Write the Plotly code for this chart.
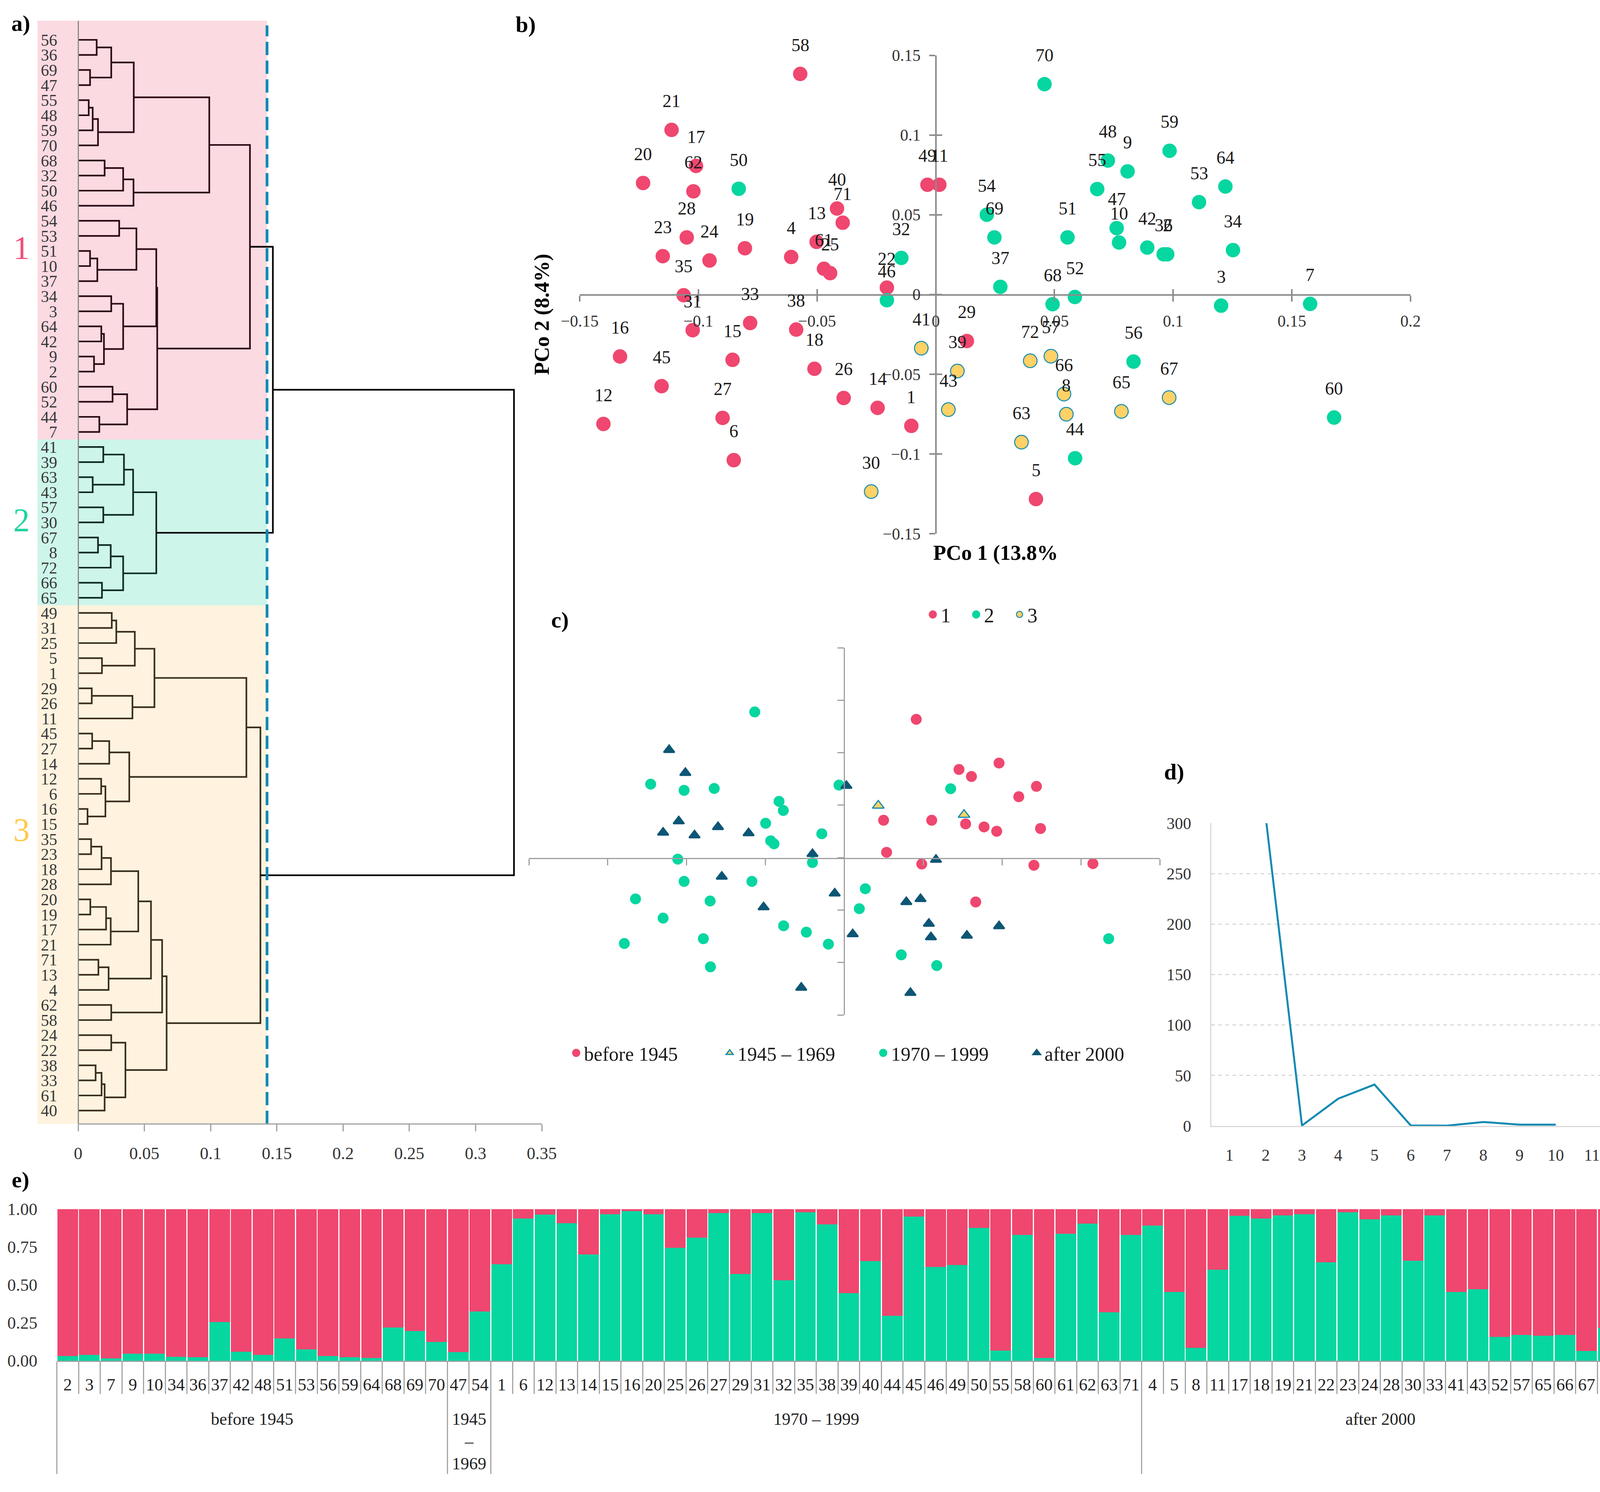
import plotly.graph_objects as go

W, H = 4179, 3819
def fx(p): return p / W
def fy(p): return 1 - p / H

FONT = "Liberation Serif"
RED, GREEN, YELLOW, BLUE, NAVY = "#ef476f", "#06d6a0", "#ffd166", "#118ab2", "#0d5675"
BG_COLORS = ["#fbdae2", "#cdf5ea", "#fff3df"]
LINE_COLORS = ["#2b0a14", "#0f2a23", "#3a2e1e"]
CLUSTER_TXT = ["#f0507a", "#1fd3a0", "#ffc94a"]
AX = "#a0a0a0"
TXT = "#333333"

# ---------------- a) dendrogram: node = (height, left, right); leaves = sample ids
CLUSTER_1 = (0.1297,
    (0.099,
        (0.0420, (0.025, (0.014, 56, 36), (0.009, 69, 47)),
                 (0.015, (0.011, (0.008, 55, 48), 59), 70)),
        (0.0418, (0.034, (0.020, 68, 32), 50), 46)),
    (0.0597,
        (0.059, (0.044, (0.031, 54, 53), (0.0145, (0.009, 51, 10), 37)),
                (0.034, (0.025, 34, 3), (0.0195, (0.0175, 64, 42), (0.012, 9, 2)))),
        (0.037, (0.026, 60, 52), (0.016, 44, 7))))
CLUSTER_2 = (0.059,
    (0.0415, (0.0346, (0.019, 41, 39), (0.011, 63, 43)), (0.019, 57, 30)),
    (0.034, (0.0246, (0.015, 67, 8), 72), (0.018, 66, 65)))
CLUSTER_3 = (0.1376,
    (0.127,
        (0.0576, (0.0428, (0.0288, (0.0254, 49, 31), 25), (0.018, 5, 1)),
                 (0.041, (0.0103, 29, 26), 11)),
        (0.0386, (0.0235, (0.0106, 45, 27), 14),
                 (0.0206, (0.0174, 12, 6), (0.0071, 16, 15)))),
    (0.0668,
        (0.0634,
            (0.055, (0.0454, (0.0248, (0.0177, (0.0098, 35, 23), 18), 28),
                             (0.0246, (0.0211, (0.0092, 20, 19), 17), 21)),
                    (0.023, (0.0153, 71, 13), 4)),
            (0.025, 62, 58)),
        (0.0357, (0.025, 24, 22), (0.020, (0.0177, (0.0132, 38, 33), 61), 40))))
JOIN_12 = 0.147
JOIN_ALL = 0.329
CUT_HEIGHT = 0.1426
A_XTICKS = [0, 0.05, 0.1, 0.15, 0.2, 0.25, 0.3, 0.35]
A_XTICKTEXT = ["0", "0.05", "0.1", "0.15", "0.2", "0.25", "0.3", "0.35"]

# ---------------- b) PCoA (cluster legend 1, 2, 3)
B1_LABELS = [58, 21, 17, 20, 62, 28, 23, 24, 19, 35, 31, 33, 15, 16, 45, 12, 27, 6, 4, 38,
             13, 61, 25, 40, 71, 18, 26, 14, 1, 22, 49, 11, 29, 5]
B1_X = [-0.0571, -0.1113, -0.1010, -0.1233, -0.1021, -0.1049, -0.1150, -0.0953, -0.0804, -0.1062,
        -0.1024, -0.0782, -0.0856, -0.1330, -0.1155, -0.1400, -0.0898, -0.0851, -0.0609, -0.0588,
        -0.0502, -0.0471, -0.0445, -0.0416, -0.0392, -0.0511, -0.0388, -0.0245, -0.0103, -0.0206,
        -0.0035, 0.0015, 0.0131, 0.0422]
B1_Y = [0.1383, 0.1032, 0.0806, 0.0699, 0.0647, 0.0358, 0.0240, 0.0213, 0.0290, -0.0005,
        -0.0224, -0.0179, -0.0410, -0.0389, -0.0575, -0.0812, -0.0774, -0.1039, 0.0235, -0.0220,
        0.0330, 0.0161, 0.0134, 0.0539, 0.0450, -0.0466, -0.0649, -0.0711, -0.0824, 0.0043,
        0.0688, 0.0688, -0.0292, -0.1283]
B2_LABELS = [50, 32, 46, 54, 69, 37, 70, 68, 52, 51, 55, 48, 9, 47, 10, 59, 42, 36, 2, 53,
             64, 34, 3, 7, 56, 60, 44]
B2_X = [-0.0830, -0.0145, -0.0206, 0.0215, 0.0247, 0.0272, 0.0458, 0.0492, 0.0586, 0.0555,
        0.0680, 0.0725, 0.0808, 0.0762, 0.0772, 0.0985, 0.0891, 0.0960, 0.0975, 0.1109,
        0.1220, 0.1252, 0.1202, 0.1577, 0.0833, 0.1678, 0.0587]
B2_Y = [0.0663, 0.0229, -0.0036, 0.0500, 0.0358, 0.0048, 0.1319, -0.0061, -0.0016, 0.0358,
        0.0661, 0.0840, 0.0772, 0.0416, 0.0326, 0.0901, 0.0294, 0.0252, 0.0252, 0.0579,
        0.0677, 0.0278, -0.0070, -0.0059, -0.0421, -0.0772, -0.1027]
B3_LABELS = [41, 39, 43, 30, 72, 57, 66, 8, 65, 67, 63]
B3_X = [-0.0061, 0.0091, 0.0053, -0.0272, 0.0398, 0.0485, 0.0540, 0.0550, 0.0782, 0.0983, 0.0361]
B3_Y = [-0.0337, -0.0480, -0.0722, -0.1236, -0.0416, -0.0387, -0.0625, -0.0751, -0.0733, -0.0647, -0.0926]
B_XTICKS = [-0.15, -0.1, -0.05, 0, 0.05, 0.1, 0.15, 0.2]
B_XTICKTEXT = ["\u22120.15", "\u22120.1", "\u22120.05", "0", "0.05", "0.1", "0.15", "0.2"]
B_YTICKS = [-0.15, -0.1, -0.05, 0, 0.05, 0.1, 0.15]
B_YTICKTEXT = ["\u22120.15", "\u22120.1", "\u22120.05", "0", "0.05", "0.1", "0.15"]

# ---------------- c) ordination by period
C_BEFORE_X = [0.0456, 0.0727, 0.0806, 0.0981, 0.1218, 0.1106, 0.0249, 0.0554, 0.0769, 0.0886,
              0.0966, 0.1244, 0.0268, 0.0491, 0.1202, 0.1576, 0.0833]
C_BEFORE_Y = [0.1318, 0.0840, 0.0773, 0.0901, 0.0679, 0.0580, 0.0356, 0.0356, 0.0321, 0.0292,
              0.0251, 0.0277, 0.0050, -0.0061, -0.0073, -0.0058, -0.0423]
C_1945_X = [0.0215, 0.0759]
C_1945_Y = [0.0496, 0.0408]
C_1970_X = [-0.0568, -0.1228, -0.1016, -0.0825, -0.0034, -0.0414, -0.0387, -0.0499, -0.0143, -0.0467,
            -0.0446, -0.1056, -0.0202, 0.0674, -0.1016, -0.0586, 0.0133, -0.1324, -0.0851, -0.1149,
            0.0095, -0.0385, -0.0241, -0.0894, -0.1395, -0.0101, 0.0361, 0.0586, -0.0849, 0.1676]
C_1970_Y = [0.1388, 0.0700, 0.0641, 0.0659, 0.0691, 0.0536, 0.0449, 0.0327, 0.0227, 0.0160,
            0.0131, -0.0015, -0.0047, 0.0656, -0.0227, -0.0227, -0.0297, -0.0394, -0.0414, -0.0577,
            -0.0487, -0.0650, -0.0711, -0.0773, -0.0819, -0.0825, -0.0927, -0.1029, -0.1041, -0.0773]
C_2000_X = [-0.1111, -0.1008, 0.0013, -0.1050, -0.1149, -0.0950, -0.0801, -0.0607, -0.0202, 0.0581,
            -0.0777, -0.0061, -0.0512, 0.0393, 0.0483, 0.0536, 0.0549, 0.0777, 0.0981, 0.0053,
            -0.0273, 0.0419]
C_2000_Y = [0.1026, 0.0808, 0.0685, 0.0347, 0.0239, 0.0213, 0.0292, 0.0233, 0.0035, -0.0020,
            -0.0181, -0.0341, -0.0472, -0.0423, -0.0394, -0.0630, -0.0758, -0.0743, -0.0653, -0.0729,
            -0.1239, -0.1289]
C_TICKS_X = [-0.2, -0.15, -0.1, -0.05, 0, 0.05, 0.1, 0.15, 0.2]
C_TICKS_Y = [-0.15, -0.1, -0.05, 0, 0.05, 0.1, 0.15, 0.2]

# ---------------- d) delta K
D_K = [1, 2, 3, 4, 5, 6, 7, 8, 9, 10, 11]
D_DELTA = [None, 306, 0.4, 27, 41, 0.5, 0.3, 3.9, 1.3, 1.3, None]
D_YTICKS = [0, 50, 100, 150, 200, 250, 300]

# ---------------- e) membership proportions by period
E_PERIODS = ["before 1945", "1945<br>\u2013<br>1969", "1970 \u2013 1999", "after 2000"]
E_SAMPLES = [
    [2, 3, 7, 9, 10, 34, 36, 37, 42, 48, 51, 53, 56, 59, 64, 68, 69, 70],
    [47, 54],
    [1, 6, 12, 13, 14, 15, 16, 20, 25, 26, 27, 29, 31, 32, 35, 38, 39, 40, 44, 45, 46, 49, 50,
     55, 58, 60, 61, 62, 63, 71],
    [4, 5, 8, 11, 17, 18, 19, 21, 22, 23, 24, 28, 30, 33, 41, 43, 52, 57, 65, 66, 67, 72],
]
E_GREEN = [
    [0.031, 0.039, 0.015, 0.046, 0.046, 0.025, 0.022, 0.255, 0.058, 0.038, 0.148, 0.074, 0.031,
     0.022, 0.017, 0.220, 0.195, 0.123],
    [0.056, 0.325],
    [0.636, 0.937, 0.962, 0.907, 0.700, 0.964, 0.986, 0.965, 0.745, 0.811, 0.972, 0.572, 0.972,
     0.531, 0.978, 0.898, 0.446, 0.656, 0.297, 0.951, 0.617, 0.630, 0.875, 0.067, 0.829, 0.019,
     0.837, 0.903, 0.318, 0.830],
    [0.891, 0.453, 0.086, 0.600, 0.955, 0.937, 0.958, 0.965, 0.649, 0.979, 0.933, 0.958, 0.659,
     0.958, 0.454, 0.472, 0.156, 0.171, 0.164, 0.171, 0.064, 0.216],
]
E_YTICKS = [0, 0.25, 0.5, 0.75, 1.0]

fig = go.Figure()

# ================= a) dendrogram =================
def leaves(node):
    if isinstance(node, int):
        return [node]
    return leaves(node[1]) + leaves(node[2])

clusters = [CLUSTER_1, CLUSTER_2, CLUSTER_3]
order = []
for c in clusters:
    order += leaves(c)
pos = {lf: i for i, lf in enumerate(order)}

def build(node, xs, ys):
    if isinstance(node, int):
        return 0.0, float(pos[node])
    h, l, r = node
    hl, yl = build(l, xs, ys)
    hr, yr = build(r, xs, ys)
    xs.extend([hl, h, h, hr, None])
    ys.extend([yl, yl, yr, yr, None])
    return h, (yl + yr) / 2

tops = []
for cl, col in zip(clusters, LINE_COLORS):
    xs, ys = [], []
    tops.append(build(cl, xs, ys))
    fig.add_trace(go.Scatter(x=xs, y=ys, mode="lines", line=dict(color=col, width=4.2),
                             xaxis="x", yaxis="y", showlegend=False, hoverinfo="skip"))

def join(a, b, h):
    return [a[0], h, h, b[0], None], [a[1], a[1], b[1], b[1], None], (h, (a[1] + b[1]) / 2)

jx1, jy1, n12 = join(tops[0], tops[1], JOIN_12)
jx2, jy2, _ = join(n12, tops[2], JOIN_ALL)
fig.add_trace(go.Scatter(x=jx1 + jx2, y=jy1 + jy2, mode="lines", line=dict(color="#000000", width=4.2),
                         xaxis="x", yaxis="y", showlegend=False, hoverinfo="skip"))

ZERO_PX = 200
LEAF0_PX, LEAF_STEP = 102, 38.6
A_TOP_PX, A_BOT_PX = 53, 2877
y_top = (A_TOP_PX - LEAF0_PX) / LEAF_STEP
y_bot = (A_BOT_PX - LEAF0_PX) / LEAF_STEP
A_SCALE = (1387 - ZERO_PX) / 0.35
x_left = (96 - ZERO_PX) / A_SCALE

bounds = [y_top]
acc = 0
for c in clusters:
    acc += len(leaves(c))
    bounds.append(acc - 0.5)
bounds[-1] = y_bot
for i, col in enumerate(BG_COLORS):
    fig.add_shape(type="rect", xref="x", yref="y", x0=x_left, x1=CUT_HEIGHT, y0=bounds[i], y1=bounds[i + 1],
                  fillcolor=col, line=dict(width=0), layer="below")
fig.add_shape(type="line", xref="x", yref="paper", x0=CUT_HEIGHT, x1=CUT_HEIGHT, y0=fy(A_BOT_PX), y1=fy(65),
              line=dict(color=BLUE, width=7, dash="34px,14px"))
fig.add_shape(type="line", xref="x", yref="paper", x0=0, x1=0.35, y0=fy(A_BOT_PX), y1=fy(A_BOT_PX),
              line=dict(color=AX, width=3))

# ================= b) PCoA =================
for name, col, lab, xs, ys, outline in [("1", RED, B1_LABELS, B1_X, B1_Y, None),
                                         ("2", GREEN, B2_LABELS, B2_X, B2_Y, None),
                                         ("3", YELLOW, B3_LABELS, B3_X, B3_Y, BLUE)]:
    if outline:
        mk = dict(size=35, color=col, line=dict(color=outline, width=2.5))
    else:
        mk = dict(size=32, color=col, line=dict(color=col, width=5))
    fig.add_trace(go.Scatter(x=xs, y=ys, mode="markers", name=name, legend="legend2", marker=mk,
                             xaxis="x2", yaxis="y2", hoverinfo="skip"))
    for l, x, y in zip(lab, xs, ys):
        fig.add_annotation(x=x, y=y, xref="x2", yref="y2", text=str(l), showarrow=False, yshift=74,
                           xanchor="center", yanchor="middle",
                           font=dict(size=46, family=FONT, color="#1a1a1a"))
fig.add_trace(go.Scatter(x=[None], y=[None], xaxis="x6", yaxis="y2", showlegend=False, hoverinfo="skip"))
fig.add_trace(go.Scatter(x=[None], y=[None], xaxis="x2", yaxis="y6", showlegend=False, hoverinfo="skip"))

# ================= c) periods =================
for name, xs, ys, sym, col, lc, lw, sz in [
        ("before 1945", C_BEFORE_X, C_BEFORE_Y, "circle", RED, RED, 5, 23),
        ("1945 \u2013 1969", C_1945_X, C_1945_Y, "triangle-up", YELLOW, BLUE, 3, 26),
        ("1970 \u2013 1999", C_1970_X, C_1970_Y, "circle", GREEN, GREEN, 5, 23),
        ("after 2000", C_2000_X, C_2000_Y, "triangle-up", NAVY, NAVY, 4, 24)]:
    fig.add_trace(go.Scatter(x=xs, y=ys, mode="markers", name=name, legend="legend3",
                             marker=dict(size=sz, symbol=sym, color=col, line=dict(color=lc, width=lw)),
                             xaxis="x3", yaxis="y3", hoverinfo="skip"))

# ================= d) delta K =================
fig.add_trace(go.Scatter(x=D_K, y=D_DELTA, mode="lines", line=dict(color=BLUE, width=5),
                         xaxis="x4", yaxis="y4", showlegend=False, hoverinfo="skip"))

# ================= e) stacked bars =================
groups, cats, green, red = [], [], [], []
for p, s, g in zip(E_PERIODS, E_SAMPLES, E_GREEN):
    for si, gi in zip(s, g):
        groups.append("<br>" + p)   # leading break: group label sits one line lower
        cats.append(str(si))
        green.append(gi)
        red.append(round(1 - gi, 4))
fig.add_trace(go.Bar(x=[groups, cats], y=green, marker=dict(color=GREEN, line=dict(width=0)),
                     xaxis="x5", yaxis="y5", showlegend=False, hoverinfo="skip"))
fig.add_trace(go.Bar(x=[groups, cats], y=red, marker=dict(color=RED, line=dict(width=0)),
                     xaxis="x5", yaxis="y5", showlegend=False, hoverinfo="skip"))

# ================= annotations =================
def paper_text(txt, x, y, size, color="#000", angle=0):
    fig.add_annotation(x=fx(x), y=fy(y), xref="paper", yref="paper", text=txt, showarrow=False,
                       xanchor="center", yanchor="middle", textangle=angle,
                       font=dict(size=size, family=FONT, color=color))

for txt, x, y in [("a)", 53, 60), ("b)", 1346, 62), ("c)", 1433, 1586), ("d)", 3006, 1975), ("e)", 52, 3019)]:
    paper_text("<b>" + txt + "</b>", x, y, 58)
for txt, y, col in [("1", 634, CLUSTER_TXT[0]), ("2", 1331, CLUSTER_TXT[1]), ("3", 2124, CLUSTER_TXT[2])]:
    paper_text(txt, 55, y, 84, col)
paper_text("<b>PCo 2 (8.4%)</b>", 1387, 805, 54, angle=-90)
paper_text("<b>PCo 1 (13.8%</b>", 2548, 1415, 54)

tickfont = dict(size=44, family=FONT, color=TXT)
fig.update_layout(
    width=W, height=H, autosize=False, margin=dict(l=0, r=0, t=0, b=0, autoexpand=False),
    paper_bgcolor="white", plot_bgcolor="rgba(0,0,0,0)",
    font=dict(family=FONT, color=TXT), barmode="stack", bargap=0.05,
    xaxis=dict(domain=[fx(96), fx(1387)], range=[x_left, 0.35], anchor="y", tickvals=A_XTICKS,
               ticktext=A_XTICKTEXT, showline=False, ticks="outside", ticklen=18, tickwidth=3, tickcolor=AX,
               tickfont=tickfont, showgrid=False, zeroline=False, ticklabelstandoff=18),
    yaxis=dict(domain=[fy(A_BOT_PX), fy(A_TOP_PX)], range=[y_bot, y_top], anchor="free", position=fx(ZERO_PX),
               tickvals=list(range(len(order))), ticktext=[str(v) for v in order], ticks="outside",
               ticklen=44, tickcolor="rgba(0,0,0,0)", showline=True, linecolor="#8a8a8a", linewidth=3,
               tickfont=dict(size=42, family=FONT, color="#383838"), showgrid=False, zeroline=False),
    xaxis2=dict(domain=[fx(1484), fx(3611)], range=[-0.15, 0.2], anchor="free", position=fy(755),
                tickvals=B_XTICKS, ticktext=B_XTICKTEXT, showline=True, linecolor="#8c8c8c", linewidth=3.5,
                ticks="outside", ticklen=15, tickwidth=3.5, tickcolor="#8c8c8c",
                tickfont=dict(size=42, family=FONT, color=TXT), showgrid=False, zeroline=False,
                ticklabelstandoff=14),
    yaxis2=dict(domain=[fy(1366), fy(141.5)], range=[-0.15, 0.15], anchor="free", position=fx(2396),
                tickvals=B_YTICKS, ticktext=B_YTICKTEXT, showline=True, linecolor="#8c8c8c", linewidth=3.5,
                ticks="outside", ticklen=15, tickwidth=3.5, tickcolor="#8c8c8c",
                tickfont=dict(size=42, family=FONT, color=TXT), showgrid=False, zeroline=False,
                ticklabelstandoff=14),
    xaxis6=dict(overlaying="x2", range=[-0.15, 0.2], anchor="free", position=fy(755), tickvals=B_XTICKS,
                showticklabels=False, showline=False, ticks="inside", ticklen=15, tickwidth=3.5,
                tickcolor="#8c8c8c", showgrid=False, zeroline=False),
    yaxis6=dict(overlaying="y2", range=[-0.15, 0.15], anchor="free", position=fx(2396), tickvals=B_YTICKS,
                showticklabels=False, showline=False, ticks="inside", ticklen=15, tickwidth=3.5,
                tickcolor="#8c8c8c", showgrid=False, zeroline=False),
    xaxis3=dict(domain=[fx(1354), fx(2969)], range=[-0.2, 0.2], anchor="free", position=fy(2197),
                tickvals=C_TICKS_X, showticklabels=False, showline=True, linecolor=AX, linewidth=3,
                ticks="outside", ticklen=16, tickwidth=3, tickcolor=AX, showgrid=False, zeroline=False),
    yaxis3=dict(domain=[fy(2598), fy(1658)], range=[-0.15, 0.2], anchor="free", position=fx(2161),
                tickvals=C_TICKS_Y, showticklabels=False, showline=True, linecolor=AX, linewidth=3,
                ticks="outside", ticklen=16, tickwidth=3, tickcolor=AX, showgrid=False, zeroline=False),
    xaxis4=dict(domain=[fx(3101), fx(4122)], range=[0.5, 11.5], anchor="y4", tickvals=D_K,
                showline=True, linecolor="#d9d9d9", linewidth=3, ticks="", showgrid=False, zeroline=False,
                tickfont=dict(size=42, family=FONT, color=TXT), ticklabelstandoff=36),
    yaxis4=dict(domain=[fy(2882), fy(2107)], range=[0, 300], anchor="x4", tickvals=D_YTICKS,
                showline=True, linecolor="#d9d9d9", linewidth=3, showgrid=True, gridcolor="#d9d9d9",
                griddash="dash", gridwidth=3, zeroline=False, ticks="outside", ticklen=40,
                tickcolor="rgba(0,0,0,0)", tickfont=dict(size=42, family=FONT, color=TXT)),
    xaxis5=dict(domain=[fx(145.5), fx(4145)], type="multicategory", anchor="y5", showline=True,
                linecolor=AX, linewidth=3, ticks="outside", ticklen=82, tickwidth=3, tickcolor="#a6a6a6",
                tickson="boundaries", dividercolor="#a6a6a6", dividerwidth=3, showgrid=False,
                tickfont=dict(size=44, family=FONT, color="#222"), ticklabelstandoff=20),
    yaxis5=dict(domain=[fy(3483), fy(3094.5)], range=[0, 1], anchor="x5", tickvals=E_YTICKS,
                tickformat=".2f", ticks="outside", ticklen=40, tickcolor="rgba(0,0,0,0)", showline=False,
                showgrid=False, zeroline=False, tickfont=dict(size=44, family=FONT, color=TXT)),
    showlegend=True,
    legend=dict(visible=False),
    legend2=dict(x=fx(2368), y=fy(1573), xanchor="left", yanchor="middle", orientation="h",
                 font=dict(size=52, family=FONT, color="#1a1a1a"), bgcolor="rgba(0,0,0,0)",
                 entrywidth=66, itemwidth=30),
    legend3=dict(x=fx(1455), y=fy(2695), xanchor="left", yanchor="middle", orientation="h",
                 font=dict(size=50, family=FONT, color="#1a1a1a"), bgcolor="rgba(0,0,0,0)",
                 entrywidth=348, itemwidth=30),
)

fig.write_html("out.html", config={"displayModeBar": False},
               post_script="document.body.style.margin='0px';document.body.style.padding='0px';")
